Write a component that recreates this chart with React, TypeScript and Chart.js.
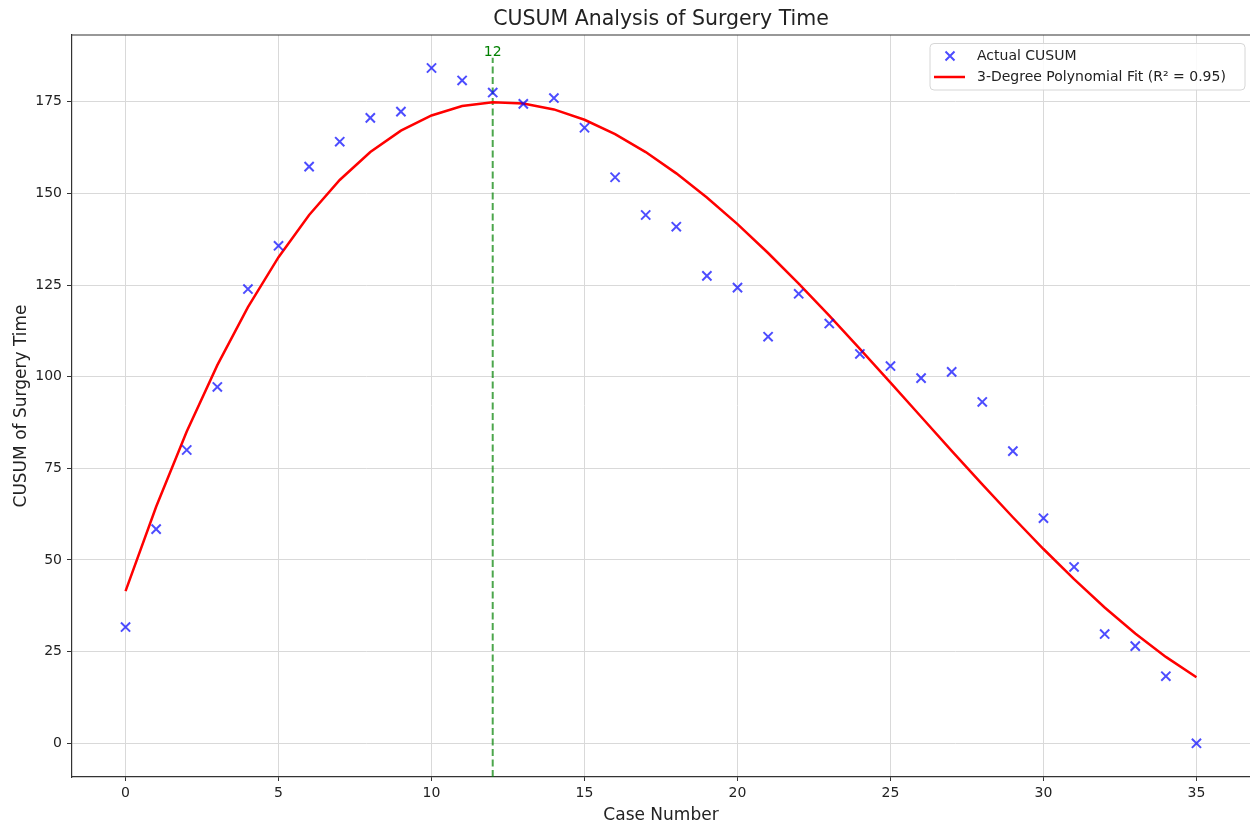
import React, { useEffect, useRef } from "react";
import { Chart, registerables } from "chart.js";

Chart.register(...registerables);

const caseNumbers = [0, 1, 2, 3, 4, 5, 6, 7, 8, 9, 10, 11, 12, 13, 14, 15, 16, 17, 18, 19, 20, 21, 22, 23, 24, 25, 26, 27, 28, 29, 30, 31, 32, 33, 34, 35];
const actualCusum = [31.7, 58.4, 80.0, 97.2, 123.9, 135.7, 157.3, 164.1, 170.6, 172.3, 184.2, 180.8, 177.5, 174.4, 176.0, 167.9, 154.4, 144.1, 140.9, 127.5, 124.3, 110.9, 122.6, 114.5, 106.2, 102.9, 99.6, 101.3, 93.1, 79.7, 61.4, 48.1, 29.8, 26.5, 18.3, 0.0];
const polyFit = [41.5, 64.51, 85.03, 103.15, 118.97, 132.59, 144.12, 153.65, 161.28, 167.12, 171.26, 173.81, 174.87, 174.53, 172.9, 170.08, 166.16, 161.26, 155.46, 148.87, 141.6, 133.73, 125.38, 116.63, 107.6, 98.38, 89.07, 79.78, 70.61, 61.65, 52.99, 44.77, 37.04, 29.94, 23.56, 17.99];
const changePoint = 12;
const changeLineTop = 187;
const xTicks = [0, 5, 10, 15, 20, 25, 30, 35];
const yTicks = [0, 25, 50, 75, 100, 125, 150, 175];
const xRange = [-1.75, 36.75];
const yRange = [-9.2, 193.2];

const FONT = "'DejaVu Sans', sans-serif";
const W = 1250;
const H = 829;

export default function App() {
  const canvasRef = useRef<HTMLCanvasElement | null>(null);

  useEffect(() => {
    const canvas = canvasRef.current;
    if (!canvas) return;

    const decor = {
      id: "decor",
      afterDraw(chart: any) {
        const { ctx, chartArea, scales } = chart;
        const { left, right, top } = chartArea;
        ctx.save();
        ctx.strokeStyle = "#333333";
        ctx.lineWidth = 1.2;
        ctx.beginPath();
        ctx.moveTo(left, top);
        ctx.lineTo(right, top);
        ctx.stroke();
        ctx.fillStyle = "#222222";
        ctx.font = `20.5px ${FONT}`;
        ctx.textAlign = "center";
        ctx.textBaseline = "middle";
        ctx.fillText("CUSUM Analysis of Surgery Time", (left + right) / 2, 20);
        ctx.fillStyle = "green";
        ctx.font = `14px ${FONT}`;
        ctx.textBaseline = "middle";
        ctx.fillText(String(changePoint), scales.x.getPixelForValue(changePoint), 52.5);
        const lx = 930, ly = 43.5, lw = 315, lh = 46.5;
        ctx.beginPath();
        ctx.roundRect(lx, ly, lw, lh, 4);
        ctx.fillStyle = "rgba(255,255,255,0.85)";
        ctx.fill();
        ctx.strokeStyle = "#d6d6d6";
        ctx.lineWidth = 1;
        ctx.stroke();
        const mx = 950, my = 56;
        ctx.strokeStyle = "rgba(0,0,255,0.7)";
        ctx.lineWidth = 2;
        ctx.beginPath();
        ctx.moveTo(mx - 4.5, my - 4.5);
        ctx.lineTo(mx + 4.5, my + 4.5);
        ctx.moveTo(mx - 4.5, my + 4.5);
        ctx.lineTo(mx + 4.5, my - 4.5);
        ctx.stroke();
        ctx.strokeStyle = "#ff0000";
        ctx.lineWidth = 2.5;
        ctx.beginPath();
        ctx.moveTo(934, 77);
        ctx.lineTo(965, 77);
        ctx.stroke();
        ctx.fillStyle = "#222222";
        ctx.font = `14px ${FONT}`;
        ctx.textAlign = "left";
        ctx.textBaseline = "middle";
        ctx.fillText("Actual CUSUM", 977, 56);
        ctx.fillText("3-Degree Polynomial Fit (R\u00B2 = 0.95)", 977, 77);
        ctx.restore();
      },
    };

    const chart = new Chart(canvas, {
      type: "scatter",
      data: {
        datasets: [
          {
            label: "Change point",
            type: "line",
            data: [
              { x: changePoint, y: yRange[0] },
              { x: changePoint, y: changeLineTop },
            ],
            borderColor: "rgba(0,128,0,0.7)",
            borderWidth: 2,
            borderDash: [7, 3.5],
            pointRadius: 0,
            fill: false,
            order: 3,
          },
          {
            label: "3-Degree Polynomial Fit (R\u00B2 = 0.95)",
            type: "line",
            data: caseNumbers.map((x, i) => ({ x, y: polyFit[i] })),
            borderColor: "#ff0000",
            borderWidth: 2.5,
            pointRadius: 0,
            tension: 0,
            fill: false,
            order: 2,
          },
          {
            label: "Actual CUSUM",
            data: caseNumbers.map((x, i) => ({ x, y: actualCusum[i] })),
            pointStyle: "crossRot",
            pointRadius: 6.5,
            borderColor: "rgba(0,0,255,0.7)",
            backgroundColor: "rgba(0,0,255,0.7)",
            pointBorderWidth: 2,
            order: 1,
          },
        ],
      },
      options: {
        animation: false,
        responsive: false,
        maintainAspectRatio: false,
        devicePixelRatio: 1,
        layout: { autoPadding: false, padding: { top: 35, right: 0, left: 0, bottom: 0 } },
        plugins: {
          legend: { display: false },
          title: { display: false },
          tooltip: { enabled: false },
        },
        scales: {
          x: {
            type: "linear",
            min: xRange[0],
            max: xRange[1],
            afterBuildTicks: (scale: any) => {
              scale.ticks = xTicks.map((v) => ({ value: v }));
            },
            afterFit: (scale: any) => {
              scale.height = 52;
            },
            grid: { color: "#d9d9d9", lineWidth: 1, tickLength: 4, tickColor: "#333333" },
            border: { color: "#333333", width: 1.2 },
            ticks: { color: "#222222", font: { family: FONT, size: 14 }, padding: 4, maxRotation: 0 },
            title: {
              display: true,
              text: "Case Number",
              color: "#222222",
              font: { family: FONT, size: 17 },
              padding: { top: 0, bottom: 3 },
            },
          },
          y: {
            type: "linear",
            min: yRange[0],
            max: yRange[1],
            afterBuildTicks: (scale: any) => {
              scale.ticks = yTicks.map((v) => ({ value: v }));
            },
            afterFit: (scale: any) => {
              scale.width = 72;
            },
            grid: { color: "#d9d9d9", lineWidth: 1, tickLength: 5, tickColor: "#333333" },
            border: { color: "#333333", width: 1.2 },
            ticks: { color: "#222222", font: { family: FONT, size: 14 }, padding: 5 },
            title: {
              display: true,
              text: "CUSUM of Surgery Time",
              color: "#222222",
              font: { family: FONT, size: 17 },
              padding: { top: 11, bottom: 0 },
            },
          },
        },
      },
      plugins: [decor],
    } as any);

    return () => chart.destroy();
  }, []);

  return (
    <div style={{ position: "absolute", left: 0, top: 0, width: W, height: H, overflow: "hidden", background: "#ffffff" }}>
      <canvas ref={canvasRef} width={W} height={H} style={{ display: "block", width: W, height: H }} />
    </div>
  );
}
